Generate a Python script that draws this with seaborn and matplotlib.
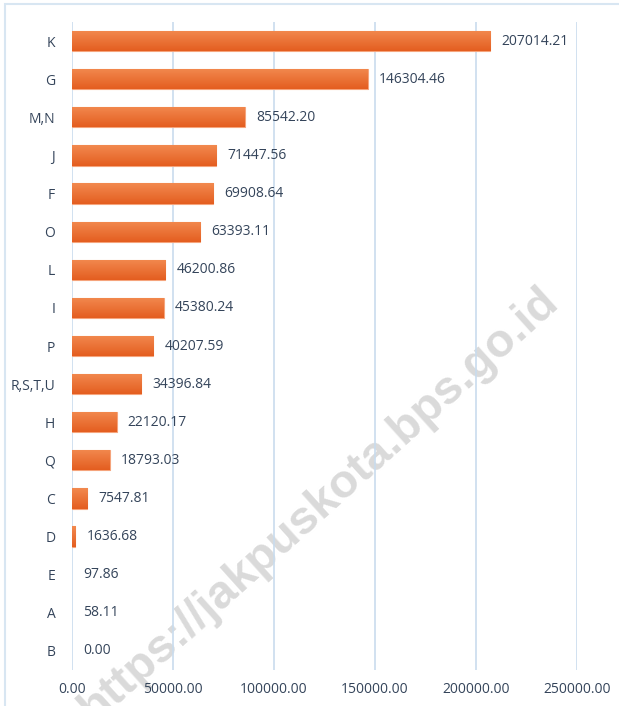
import numpy as np
import pandas as pd
import seaborn as sns
import matplotlib.pyplot as plt
from matplotlib.patches import Rectangle

categories = ["K", "G", "M,N", "J", "F", "O", "L", "I", "P", "R,S,T,U",
              "H", "Q", "C", "D", "E", "A", "B"]
values = [207014.21, 146304.46, 85542.20, 71447.56, 69908.64, 63393.11,
          46200.86, 45380.24, 40207.59, 34396.84, 22120.17, 18793.03,
          7547.81, 1636.68, 97.86, 58.11, 0.00]
x_ticks = [0, 50000, 100000, 150000, 200000, 250000]

df = pd.DataFrame({"cat": categories, "val": values})

sns.set_theme(style="white")
plt.rcParams["font.family"] = ["Open Sans", "DejaVu Sans"]
text_col = "#34445A"
grid_col = "#C9DCEE"

fig = plt.figure(figsize=(6.19, 7.06), dpi=100)
ax = fig.add_axes([0.1163, 0.051, 0.8158, 0.9178])

sns.barplot(data=df, x="val", y="cat", orient="h", color="#EC6A2E",
            width=0.53, linewidth=0, ax=ax, zorder=3)

# vertical gradient on each bar, lighter on top
grad = np.linspace(0, 1, 64).reshape(-1, 1)
cmap = sns.blend_palette(["#F2894F", "#E45E20"], as_cmap=True)
for p in ax.patches:
    x0, y0 = p.get_x(), p.get_y()
    w, h = p.get_width(), p.get_height()
    if w < 500:
        continue
    p.set_edgecolor("#F5A47C")
    p.set_linewidth(0.8)
    im = ax.imshow(grad, cmap=cmap, aspect="auto", zorder=3.5,
                   extent=[x0, x0 + w, y0 + h, y0], origin="upper")
    im.set_clip_path(p)

ax.bar_label(ax.containers[0], labels=[f"{v:.2f}" for v in values],
             padding=8, fontsize=10, color=text_col, zorder=5)

ax.set_xlim(0, 250000)
ax.set_ylim(len(categories) - 0.5, -0.5)
ax.set_xticks(x_ticks)
ax.set_xticklabels([f"{t:.2f}" for t in x_ticks])
ax.tick_params(axis="both", length=0, labelsize=10, colors=text_col)
ax.tick_params(axis="y", pad=12)
ax.tick_params(axis="x", pad=9)
ax.set_xlabel("")
ax.set_ylabel("")
ax.xaxis.grid(True, color=grid_col, linewidth=1.2, zorder=0)
ax.set_axisbelow(True)
ax.patch.set_alpha(0)
for s in ax.spines.values():
    s.set_visible(False)

# frame around the chart
fig.patches.append(Rectangle((5 / 619, -0.1), 1.2, 1.1 - 4 / 706,
                             transform=fig.transFigure, fill=False,
                             edgecolor="#D8E6F2", linewidth=1.5))

# watermark, sitting behind the bars and labels
fig.text(0.516, 0.285, "https://jakpuskota.bps.go.id", rotation=42,
         fontsize=34, fontweight="bold", color="#DADADA",
         ha="center", va="center", family="Liberation Sans", zorder=-1)

fig.savefig("out.png", dpi=100)
